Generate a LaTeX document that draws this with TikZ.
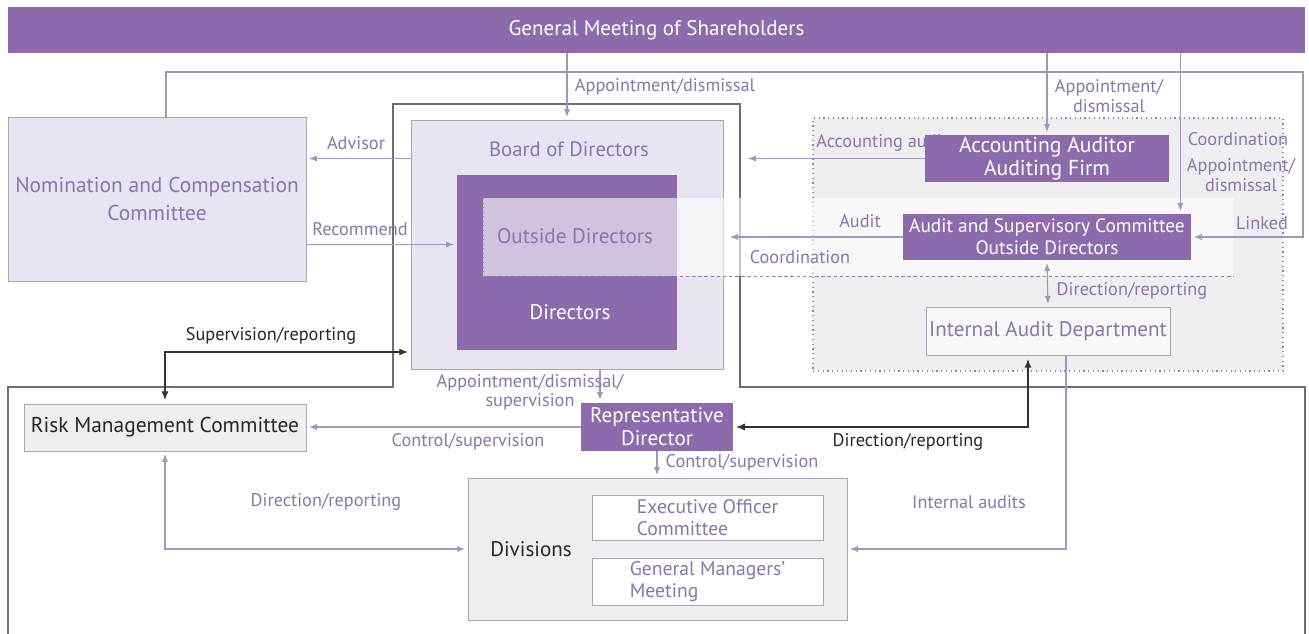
\documentclass[tikz,border=0pt]{standalone}
\usepackage{fontspec}
\setmainfont{PT Sans}
\usetikzlibrary{arrows.meta,calc}
\definecolor{gmpurple}{HTML}{8B6BAC}
\definecolor{lavfill}{HTML}{E9E4F1}
\definecolor{purptext}{HTML}{8A76A8}
\definecolor{arrowcol}{HTML}{A395BC}
\definecolor{framecol}{HTML}{6F6F6F}
\definecolor{greyfill}{HTML}{EFEFF2}
\definecolor{edgecol}{HTML}{ABA6B6}
\definecolor{dotcol}{HTML}{8F80AE}
\colorlet{blacktext}{black!85}

\tikzstyle{darkbox}=[
    fill=gmpurple,
    text=white,
    align=center,
    inner sep=0pt,
    font=\fontsize{12}{13}\selectfont
    ]
\tikzstyle{lightbox}=[
    fill=lavfill,
    draw=edgecol,
    text=purptext,
    align=center,
    inner sep=0pt,
    font=\fontsize{12.2}{15.5}\selectfont
    ]
\tikzstyle{greybox}=[fill=greyfill, draw=edgecol, text=blacktext, inner sep=0pt]
\tikzstyle{whitebox}=[
    fill=white,
    draw=edgecol,
    text=purptext,
    align=left,
    inner sep=0pt,
    font=\fontsize{11.2}{12.5}\selectfont
    ]
\tikzstyle{lbl}=[text=purptext, inner sep=0pt, align=center, font=\fontsize{10.4}{11}\selectfont]
\tikzstyle{blklbl}=[text=blacktext, inner sep=0pt, font=\fontsize{10.4}{11}\selectfont]
\tikzstyle{conn}=[draw=arrowcol, line width=0.6pt, shorten >=1.5pt, -{Latex[length=4.5pt,width=3.5pt]}]
\tikzstyle{connboth}=[draw=arrowcol, line width=0.6pt, shorten >=1.5pt, shorten <=1.5pt,
    {Latex[length=4.5pt,width=3.5pt]}-{Latex[length=4.5pt,width=3.5pt]}]
\tikzstyle{blkconn}=[draw=black!80, line width=0.7pt, shorten >=1.5pt, shorten <=2pt,
    {Latex[length=5pt,width=4pt]}-{Latex[length=5pt,width=4pt]}]

\begin{document}
\begin{tikzpicture}[x=0.02cm, y=-0.02cm]
\useasboundingbox (0,0) rectangle (1309,634);

% frame round the board and the executive side
\draw[framecol, line width=0.8pt] (8,634) -- (8,387) -- (393,387) -- (393,104)
    -- (740,104) -- (740,387) -- (1305,387) -- (1305,634);

\node[darkbox, minimum width=25.94cm, minimum height=0.92cm] (gm) at (656.5,30) {General Meeting of Shareholders};

\node[lightbox, minimum width=5.96cm, minimum height=3.28cm] (nom) at (157,199) {Nomination and Compensation\\Committee};

\node[lightbox, minimum width=6.24cm, minimum height=4.98cm] (bod) at (567,244.5) {};
\node[lbl, font=\fontsize{11.8}{12}\selectfont] (bodtxt) at (569,149) {Board of Directors};
\node[fill=gmpurple, inner sep=0pt, minimum width=4.4cm, minimum height=3.5cm] (dirs) at (567,262.5) {};
\node[text=white, inner sep=0pt, font=\fontsize{12}{13}\selectfont] (dirstxt) at (570,312) {Directors};

\node[fill=greyfill, draw=dotcol, dotted, line width=0.7pt, inner sep=0pt,
    minimum width=9.4cm, minimum height=5.06cm] (auditarea) at (1048,244.5) {};

% outside directors band
\fill[white, fill opacity=0.6] (483,198) rectangle (1234,276);
\draw[dotcol, dotted, line width=0.6pt] (483,198) -- (483,276);
\draw[dotcol, dash pattern=on 2pt off 1.5pt, line width=0.5pt] (483,276) -- (1234,276);
\node[lbl, font=\fontsize{12}{13}\selectfont] (outtxt) at (575,236) {Outside Directors};

\node[lbl, anchor=west] (lAccAud) at (816,143) {Accounting audit};
\node[darkbox, minimum width=4.88cm, minimum height=0.94cm, font=\fontsize{12.3}{13.5}\selectfont] (acc) at (1047,158.5) {Accounting Auditor\\Auditing Firm};
\node[darkbox, minimum width=5.76cm, minimum height=0.92cm, font=\fontsize{11}{12.5}\selectfont] (asc) at (1047,237) {Audit and Supervisory Committee\\Outside Directors};
\node[whitebox, fill=white!55!greyfill, minimum width=4.88cm, minimum height=0.96cm, font=\fontsize{12}{13}\selectfont] (iad) at (1048,331) {Internal Audit Department};

\node[darkbox, minimum width=3.04cm, minimum height=0.96cm] (rep) at (657,427) {Representative\\Director};
\node[greybox, minimum width=5.64cm, minimum height=0.94cm, font=\fontsize{12.2}{14}\selectfont] (risk) at (165,427.5) {Risk Management Committee};
\node[greybox, minimum width=7.58cm, minimum height=2.84cm] (div) at (657.5,549) {};
\node[text=blacktext, inner sep=0pt, font=\fontsize{12}{13}\selectfont] (divtxt) at (531,549) {Divisions};
\node[whitebox, minimum width=4.62cm, minimum height=0.9cm] (exec) at (707.5,517.5) {Executive Officer\\Committee};
\node[whitebox, minimum width=4.62cm, minimum height=0.94cm] (gmm) at (707.5,581.5) {General Managers'\\Meeting};

% connectors
\coordinate (linkL) at (166,72);
\coordinate (linkR) at (1303,72);
\draw[conn] (nom.north -| linkL) -- (linkL) -- (linkR) |- (asc.east);
\draw[conn] (gm.south -| bod.north) -- (bod.north);
\draw[conn] (gm.south -| acc.north) -- (acc.north);
\coordinate (ascIn) at ($(asc.north east)+(-11,0)$);
\draw[conn] (gm.south -| ascIn) -- (ascIn);
\draw[conn] (bod.west |- acc.west) -- (nom.east |- acc.west);
\draw[conn] (nom.east |- bod.center) -- (dirs.west |- bod.center);
\draw[conn] (acc.west) -- ($(bod.east |- acc.west)+(22,0)$);
\draw[conn] (asc.west) -- ($(bod.east |- asc.west)+(4,0)$);
\draw[connboth] (asc.south) -- (iad.north);
\draw[blkconn] ($(iad.south)+(-20,0)$) |- (rep.east);
\draw[conn] ($(iad.south)+(18,0)$) |- (div.east);
\coordinate (repIn) at ($(rep.north)+(-57,0)$);
\draw[conn] (repIn |- bod.south) -- (repIn);
\draw[conn] (rep.west) -- (risk.east |- rep.west);
\coordinate (supIn) at ($(bod.west)+(0,107.5)$);
\draw[blkconn] (risk.north) |- (supIn);
\draw[connboth] (risk.south) |- (div.west);
\draw[conn] (rep.south) -- (rep.south |- div.north);

% labels
\node[lbl] (lAppBod) at (665,87) {Appointment/dismissal};
\node[lbl] (lAppAcc) at (1109,96) {Appointment/\\dismissal};
\node[lbl] (lCoordTop) at (1238,139) {Coordination};
\node[lbl] (lAppAsc) at (1241,175) {Appointment/\\dismissal};
\node[lbl] (lLinked) at (1262,223) {Linked};
\node[lbl] (lAdvisor) at (356,143) {Advisor};
\node[lbl] (lRecommend) at (360,229) {Recommend};
\node[lbl] (lAudit) at (860,221) {Audit};
\node[lbl] (lCoordMid) at (800,257) {Coordination};
\node[lbl] (lDirRepAsc) at (1132,291) {Direction/reporting};
\node[blklbl] (lDirRepRep) at (908,442) {Direction/reporting};
\node[lbl] (lIntAud) at (969,502) {Internal audits};
\node[lbl] (lAppRep) at (530,392) {Appointment/dismissal/\\supervision};
\node[lbl] (lCtrlRisk) at (468,442) {Control/supervision};
\node[lbl] (lCtrlDiv) at (742,463) {Control/supervision};
\node[blklbl] (lSupRep) at (271,336) {Supervision/reporting};
\node[lbl] (lDirRepRisk) at (326,502) {Direction/reporting};
\end{tikzpicture}
\end{document}
